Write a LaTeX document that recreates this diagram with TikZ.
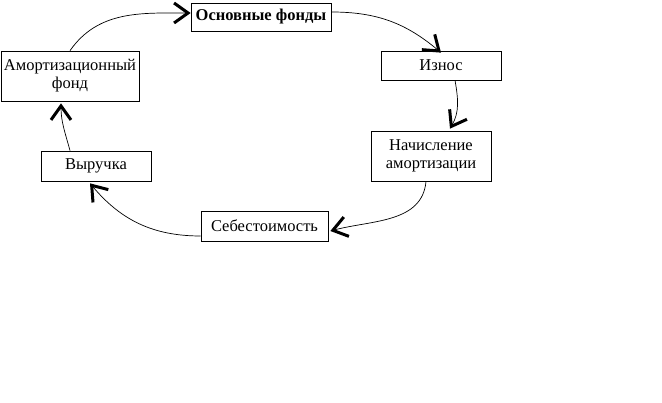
\documentclass[tikz,border=0pt]{standalone}
\usepackage{fontspec}
\setmainfont{Liberation Serif}
\usetikzlibrary{arrows.meta,positioning}

\begin{document}
\begin{tikzpicture}[x=1pt,y=-1pt,->,>={Straight Barb[length=14pt,width=20pt,line width=3pt]},line width=0.7pt,
  box/.style={draw,rectangle,inner sep=0pt,align=center,font=\fontsize{16.5}{18}\selectfont}]
  \useasboundingbox (0,0) rectangle (662,403);
  \node[box,minimum width=140pt,minimum height=28pt,font=\fontsize{16.5}{18}\selectfont\bfseries] (OF) at (261,17) {Основные фонды};
  \node[box,minimum width=120pt,minimum height=29pt] (IZ) at (441,65.5) {Износ};
  \node[box,minimum width=120pt,minimum height=50pt] (NA) at (431,156) {Начисление\\амортизации};
  \node[box,minimum width=127pt,minimum height=30pt] (SB) at (264.5,226) {Себестоимость};
  \node[box,minimum width=110pt,minimum height=30pt] (VY) at (96,166) {Выручка};
  \node[box,minimum width=138pt,minimum height=50pt] (AF) at (70,76) {Амортизационный\\фонд};

  \path (AF.north)                edge [out=55,in=180]  ([yshift=4pt]OF.west)
        ([yshift=5pt]OF.east)     edge [out=0,in=140]   ([yshift=-2pt]IZ.north)
        ([xshift=14pt]IZ.south)   edge [out=-80,in=60]  ([xshift=19pt,yshift=2pt]NA.north)
        ([xshift=-5pt]NA.south)   edge [out=-95,in=15]  ([xshift=2pt,yshift=-5pt]SB.east)
        ([yshift=-10pt]SB.west)   edge [out=180,in=-50] ([xshift=-6pt,yshift=-2pt]VY.south)
        ([xshift=-26pt]VY.north)  edge [out=105,in=-90] ([xshift=-9pt,yshift=-2pt]AF.south);
\end{tikzpicture}
\end{document}
